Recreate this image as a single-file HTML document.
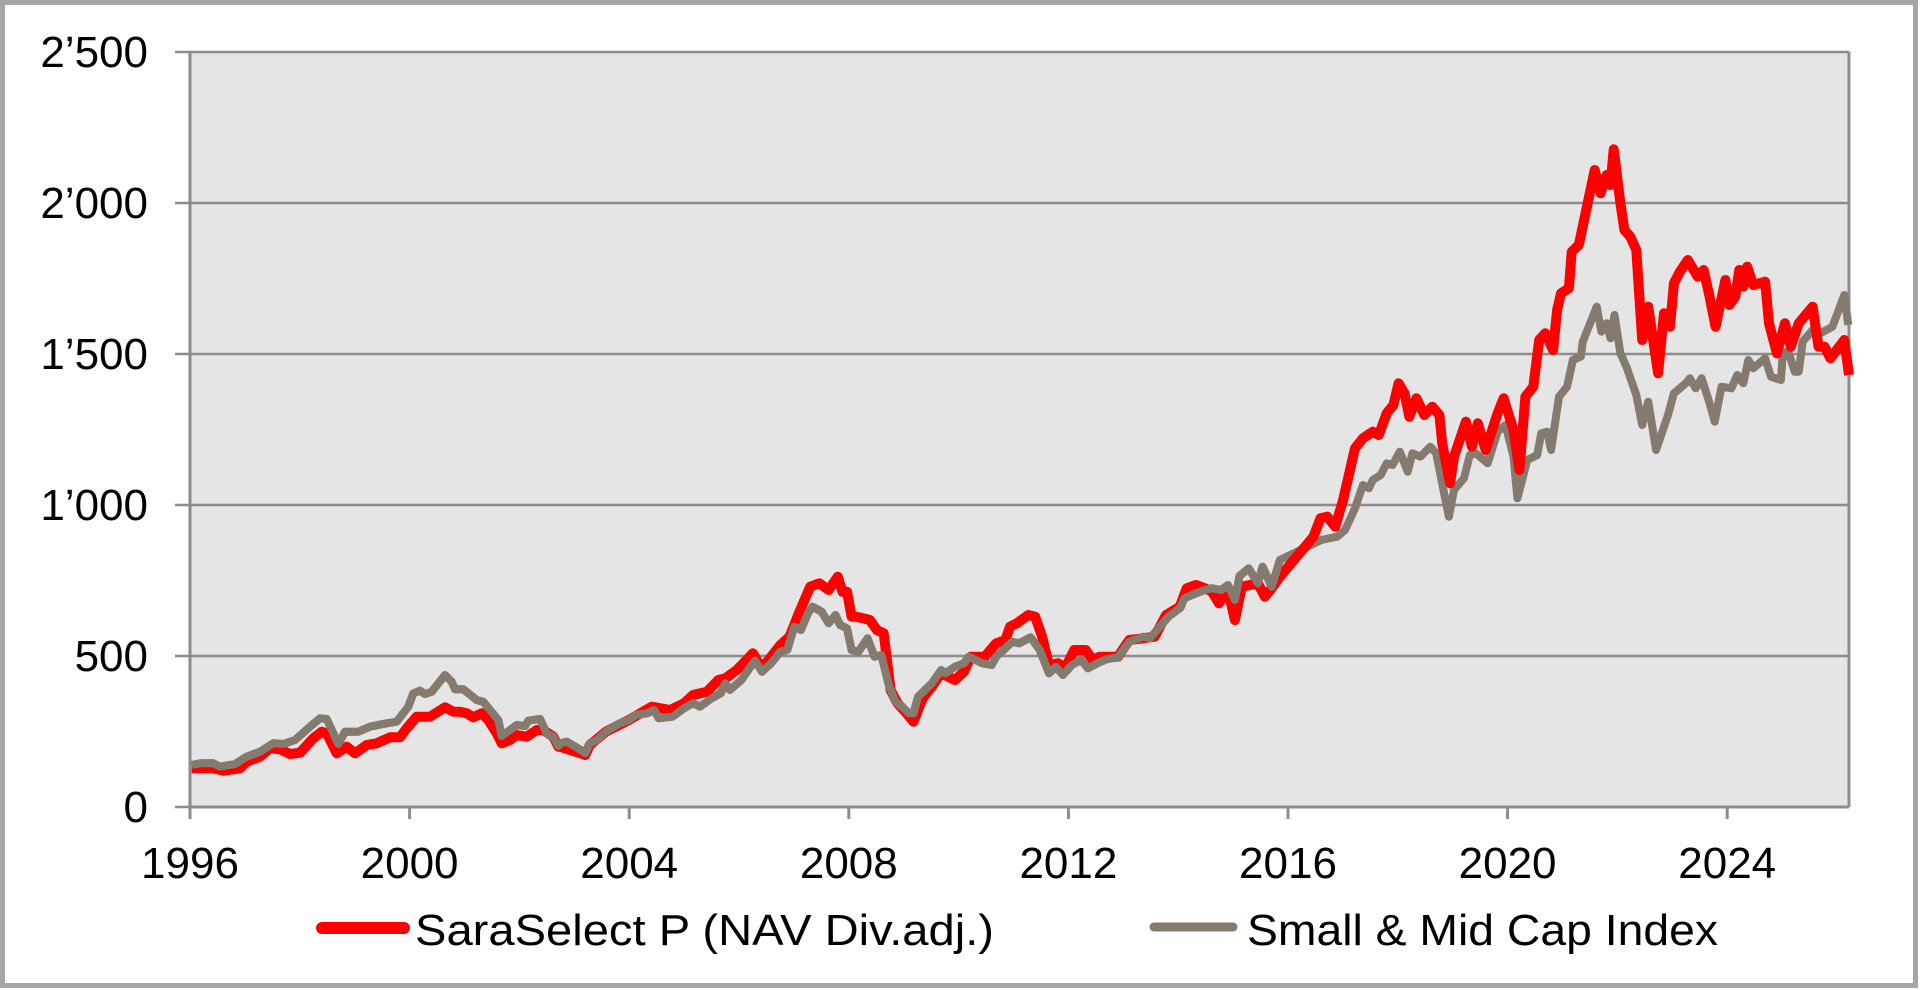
<!DOCTYPE html>
<html><head><meta charset="utf-8"><style>
html,body{margin:0;padding:0;background:#fff;}
svg{display:block;font-family:"Liberation Sans",Arial,sans-serif;}
</style></head><body>
<svg id="s" width="1920" height="990" viewBox="0 0 1920 990" xmlns="http://www.w3.org/2000/svg">
<rect x="2.5" y="2.5" width="1913" height="983" fill="#fff" stroke="#a6a6a6" stroke-width="5"/>
<rect x="190" y="52" width="1659" height="755" fill="#e5e5e5"/>
<g stroke="#8c8c8c" stroke-width="2.5">
<line x1="175" y1="52" x2="1849" y2="52"/>
<line x1="175" y1="203" x2="1849" y2="203"/>
<line x1="175" y1="354" x2="1849" y2="354"/>
<line x1="175" y1="505" x2="1849" y2="505"/>
<line x1="175" y1="656" x2="1849" y2="656"/>
<line x1="175" y1="807" x2="1849" y2="807"/>
</g>
<g stroke="#8c8c8c" stroke-width="3" fill="none">
<line x1="190" y1="52" x2="190" y2="807"/>
<line x1="1849" y1="52" x2="1849" y2="807"/>
<line x1="190" y1="807" x2="1849" y2="807"/>
</g>
<g id="ticks" stroke="#8c8c8c" stroke-width="3"></g>
<g font-size="44" text-anchor="end" fill="#000">
<text x="148" y="67">2’500</text>
<text x="148" y="218">2’000</text>
<text x="148" y="369">1’500</text>
<text x="148" y="520">1’000</text>
<text x="148" y="671">500</text>
<text x="148" y="822">0</text>
</g>
<g id="xl" font-size="44" text-anchor="middle" fill="#000"></g>
<polyline id="gray" fill="none" stroke="#857a6e" stroke-width="8" stroke-linejoin="round"/>
<polyline id="red" fill="none" stroke="#ff0000" stroke-width="10" stroke-linejoin="round"/>
<polyline id="gray2" fill="none" stroke="#857a6e" stroke-width="8" stroke-linejoin="round"/>
<line x1="322" y1="928" x2="404" y2="928" stroke="#ff0000" stroke-width="12" stroke-linecap="round"/>
<text x="415" y="945" font-size="44" fill="#000" textLength="579" lengthAdjust="spacingAndGlyphs">SaraSelect P (NAV Div.adj.)</text>
<line x1="1154" y1="927" x2="1233" y2="927" stroke="#857a6e" stroke-width="9" stroke-linecap="round"/>
<text x="1247" y="945" font-size="44" fill="#000" textLength="471" lengthAdjust="spacingAndGlyphs">Small &amp; Mid Cap Index</text>
</svg>
<script>
var NS="http://www.w3.org/2000/svg";
var X=function(y){return 190+(y-1996)*54.9;};
var t=document.getElementById('ticks'),xl=document.getElementById('xl');
for(var y=1996;y<=2024;y+=4){var l=document.createElementNS(NS,'line');l.setAttribute('x1',X(y));l.setAttribute('x2',X(y));l.setAttribute('y1',807);l.setAttribute('y2',819);t.appendChild(l);
var tx=document.createElementNS(NS,'text');tx.setAttribute('x',X(y));tx.setAttribute('y',878);tx.textContent=y;xl.appendChild(tx);}
function conv(a,ox,oy,sx,sy){var r=[];for(var i=0;i<a.length;i+=2)r.push((ox+a[i]/sx).toFixed(1)+','+(oy+a[i+1]/sy).toFixed(1));return r;}
var gA=[35,495,60,490,100,490,120,500,165,492,200,470,240,455,280,430,310,432,345,420,390,380,420,355,440,357,475,432,495,395,535,395,570,380,620,370,650,365,685,320,700,280,720,272,735,282,755,275,795,225,815,245,825,268,850,268,890,300,910,305,930,330,955,360,965,408,990,390,1010,375,1035,378,1045,362,1080,357,1100,400,1120,410,1135,438];
var rA=[35,505,70,505,100,505,130,512,180,505,200,485,240,470,270,445,300,448,330,462,360,458,400,415,425,395,440,400,470,460,500,440,525,460,560,435,590,430,630,412,660,412,680,385,710,350,750,350,795,322,820,335,840,335,860,340,880,352,905,340,925,360,950,400,965,430,990,420,1010,405,1040,410,1070,390,1090,390,1120,410,1135,440];
var gB=[0,970,15,965,45,990,55,1000,65,970,80,960,100,935,130,910,150,900,165,885,190,880,205,870,215,895,245,890,270,865,290,850,305,860,330,835,350,820,360,790,370,810,395,780,415,740,425,722,440,755,460,730,480,695,495,690,510,620,525,630,540,580,550,560,570,575,585,610,600,585,610,615,625,625,635,690,650,695,670,655,685,710,700,705,715,790,730,845,745,860,760,880,770,880,780,830,795,810,810,790,830,750,840,760,860,740,880,730,890,710,905,720,920,730,940,735,950,710,970,685,985,665,1000,670,1025,652,1045,690,1065,760,1080,740,1095,765,1115,735,1135,720,1150,745,1170,730,1190,718,1215,712,1240,665,1270,650,1285,655,1300,630,1325,590,1350,565,1360,535,1385,520,1405,510,1420,505,1440,510,1455,495,1470,540,1480,468,1500,445,1520,490,1530,440,1550,500,1568,420];
var rB=[0,980,45,1000,55,1005,65,975,100,935,150,900,175,880,200,860,240,870,270,850,290,825,320,815,345,780,360,775,385,750,410,715,420,700,440,745,480,675,500,650,520,580,545,500,565,490,585,510,605,470,615,515,625,515,635,590,645,590,660,595,675,600,690,630,705,640,720,810,735,850,755,880,770,905,790,835,810,800,830,760,860,780,880,755,895,710,925,710,950,670,970,660,980,620,995,610,1020,585,1035,590,1050,650,1065,735,1085,730,1100,745,1120,690,1145,690,1160,720,1175,710,1215,710,1240,660,1270,655,1295,650,1320,585,1350,560,1365,505,1385,495,1405,505,1420,515,1435,550,1455,510,1470,600,1485,500,1520,490,1535,530,1550,505,1568,470];
var rC=[160,1250,178,1195,195,1190,215,1220,235,1140,265,985,285,955,310,935,325,945,345,880,362,855,375,790,390,820,402,890,420,835,440,885,460,860,478,885,485,970,505,1090,515,1010,545,905,560,980,575,910,595,990,625,880,640,835,665,930,680,1050,695,830,715,800,730,660,745,640,765,690,775,570,785,520,805,505,812,395,830,375,870,150,885,220,900,165,910,195,918,88,935,250,945,330,960,350,975,390,990,660,1005,560,1030,760,1045,580,1060,620,1070,490,1085,455,1105,420,1130,470,1145,450,1160,530,1175,620,1200,480,1210,555,1225,530,1235,450,1245,500,1255,440,1270,495,1300,485,1310,610,1330,700,1350,610,1365,680,1385,610,1420,560,1435,680,1450,680,1465,715,1500,660,1512,765];
var gC=[180,1260,220,1250,240,1230,265,1165,285,1095,300,1105,310,1080,330,1065,345,1030,360,1035,378,995,398,1055,410,1000,430,1010,455,980,470,1000,490,1120,502,1190,515,1110,540,1075,555,1005,570,1000,600,1030,625,935,645,915,665,1010,675,1135,700,1020,725,1005,735,940,750,935,760,990,780,830,800,800,815,720,835,710,840,665,875,560,887,635,900,610,910,655,920,585,935,700,950,740,975,825,990,915,1005,845,1025,990,1055,885,1070,820,1100,790,1110,775,1125,805,1140,775,1160,850,1173,905,1190,800,1215,805,1230,765,1245,790,1258,720,1270,745,1300,715,1315,770,1340,780,1345,695,1360,700,1375,755,1385,755,1395,665,1420,630,1440,640,1470,620,1500,525,1510,615];
var red=conv(rA,180,600,3,3).concat(conv(rB,560,420,2.178,3),conv(rC,1250,120,2.524,3));
var gray=conv(gA,180,600,3,3).concat(conv(gB,560,420,2.178,3),conv(gC,1250,120,2.524,3));
document.getElementById('red').setAttribute('points',red.join(' '));
document.getElementById('gray').setAttribute('points',gray.join(' '));
var cut=gray.filter(function(p){return parseFloat(p)<1290;});
document.getElementById('gray2').setAttribute('points',cut.join(' '));
</script>
</body></html>
